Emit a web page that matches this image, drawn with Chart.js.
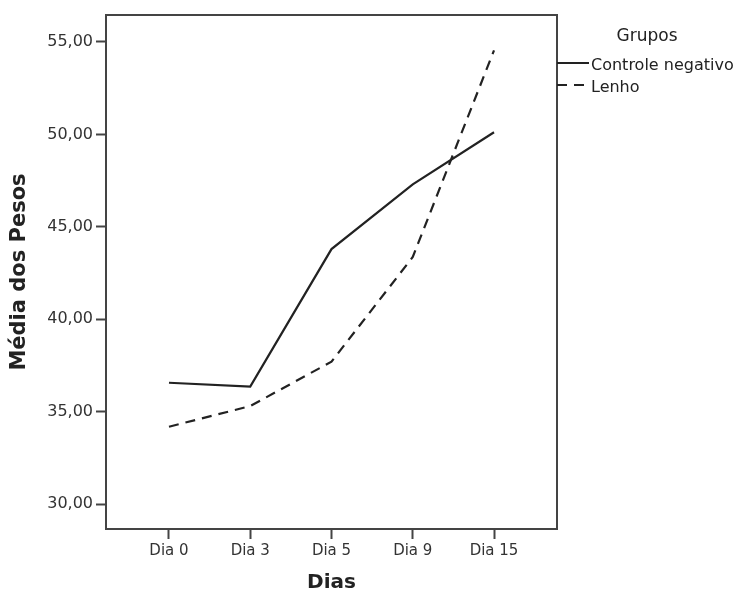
<!DOCTYPE html>
<html>
<head>
<meta charset="utf-8">
<script src="https://cdn.jsdelivr.net/npm/chart.js@4/dist/chart.umd.min.js"></script>
<style>
html,body{margin:0;padding:0;background:#fff;}
canvas{display:block;}
</style>
</head>
<body>
<canvas id="c" width="739" height="595"></canvas>
<script>
const categories = ['Dia 0', 'Dia 3', 'Dia 5', 'Dia 9', 'Dia 15'];
const controleNegativo = [36.57, 36.36, 43.80, 47.30, 50.12];
const lenho = [34.19, 35.31, 37.71, 43.37, 54.55];
const seriesNames = ['Controle negativo', 'Lenho'];
const yTickValues = [30, 35, 40, 45, 50, 55];
const yTickLabels = ['30,00', '35,00', '40,00', '45,00', '50,00', '55,00'];
const legendTitle = 'Grupos';
const xTitle = 'Dias';
const yTitle = 'Média dos Pesos';

Chart.defaults.font.family = 'DejaVu Sans';
const axisColor = '#444444';
const textColor = '#333333';

const boxPlugin = {
  id: 'box',
  afterDraw(chart) {
    const {ctx, chartArea: a} = chart;
    ctx.save();
    ctx.strokeStyle = axisColor;
    ctx.lineWidth = 2;
    ctx.strokeRect(a.left, a.top, a.right - a.left, a.bottom - a.top);
    // legend
    const lx = a.right;
    ctx.fillStyle = '#222';
    ctx.font = '17px "DejaVu Sans"';
    ctx.textBaseline = 'middle';
    ctx.textAlign = 'center';
    ctx.fillText(legendTitle, 647, 37);
    ctx.textAlign = 'left';
    ctx.font = '16px "DejaVu Sans"';
    const rows = [63, 85];
    chart.data.datasets.forEach((ds, i) => {
      const y = rows[i];
      ctx.strokeStyle = '#222';
      ctx.lineWidth = 2;
      ctx.setLineDash(ds.borderDash || []);
      ctx.beginPath();
      ctx.moveTo(lx, y);
      ctx.lineTo(lx + 32, y);
      ctx.stroke();
      ctx.setLineDash([]);
      ctx.fillStyle = '#222';
      ctx.fillText(ds.label, lx + 34, y + 3);
    });
    ctx.restore();
  }
};

new Chart(document.getElementById('c'), {
  type: 'line',
  data: {
    datasets: [
      {
        label: seriesNames[0],
        data: controleNegativo.map((v, i) => ({x: i, y: v})),
        borderColor: '#222',
        borderWidth: 2.2,
        pointRadius: 0,
        tension: 0
      },
      {
        label: seriesNames[1],
        data: lenho.map((v, i) => ({x: i, y: v})),
        borderColor: '#222',
        borderWidth: 2.2,
        borderDash: [10, 7],
        pointRadius: 0,
        tension: 0
      }
    ]
  },
  options: {
    responsive: false,
    animation: false,
    devicePixelRatio: 1,
    layout: {padding: {left: 0, top: 15, right: 182, bottom: 0}},
    plugins: {legend: {display: false}, tooltip: {enabled: false}},
    scales: {
      x: {
        type: 'linear',
        min: -0.775,
        max: 4.775,
        afterBuildTicks(scale) { scale.ticks = categories.map((c, i) => ({value: i})); },
        afterFit(scale) { scale.height = 66; },
        ticks: {
          callback: (v) => categories[v],
          color: textColor,
          font: {size: 15},
          padding: 3,
          maxRotation: 0,
          autoSkip: false
        },
        grid: {drawOnChartArea: false, drawTicks: true, tickLength: 10, tickWidth: 2, tickColor: axisColor},
        border: {display: false},
        title: {display: true, text: xTitle, color: '#222', font: {size: 20, weight: 'bold'}, padding: {top: 0, bottom: 0}}
      },
      y: {
        type: 'linear',
        min: 28.66,
        max: 56.46,
        afterBuildTicks(scale) { scale.ticks = yTickValues.map(v => ({value: v})); },
        afterFit(scale) { scale.width = 106; },
        ticks: {
          callback: (v) => yTickLabels[yTickValues.indexOf(v)],
          color: textColor,
          font: {size: 16},
          padding: 3
        },
        grid: {drawOnChartArea: false, drawTicks: true, tickLength: 10, tickWidth: 2, tickColor: axisColor},
        border: {display: false},
        title: {display: true, text: yTitle, color: '#222', font: {size: 21, weight: 'bold'}, padding: {top: 7, bottom: 0}}
      }
    }
  },
  plugins: [boxPlugin]
});
</script>
</body>
</html>
